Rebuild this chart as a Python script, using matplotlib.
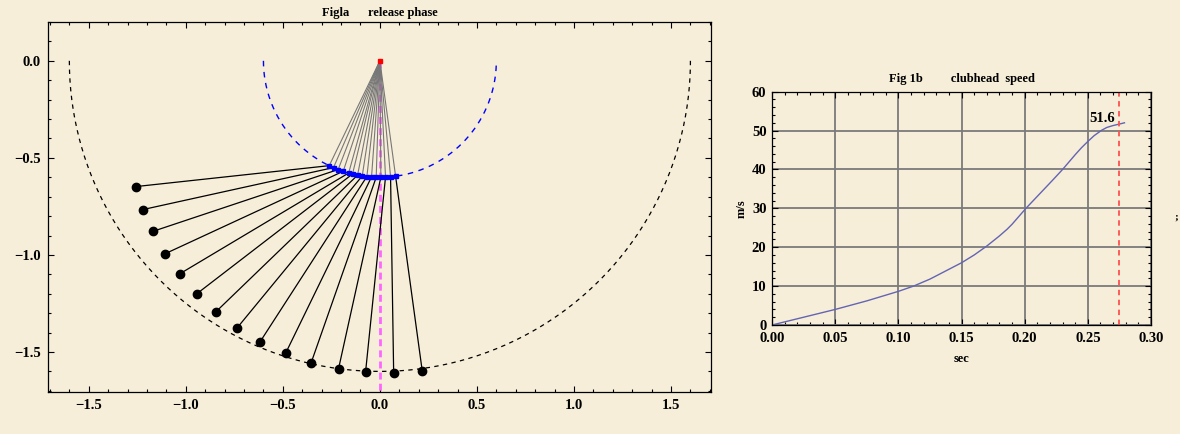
import numpy as np
import matplotlib
matplotlib.use("Agg")
from matplotlib import pyplot as plt
from matplotlib.ticker import MultipleLocator

# Fig 1a: hand positions (on arm circle) and clubhead positions
hand_x = [-0.261, -0.239, -0.215, -0.189, -0.161, -0.141, -0.115, -0.091,
          -0.067, -0.043, -0.019, 0.005, 0.029, 0.055, 0.081]
hand_y = [-0.540, -0.550, -0.560, -0.569, -0.578, -0.583, -0.589, -0.593,
          -0.596, -0.598, -0.600, -0.600, -0.599, -0.597, -0.595]
head_x = [-1.259, -1.220, -1.168, -1.105, -1.029, -0.942, -0.844, -0.735,
          -0.617, -0.486, -0.354, -0.213, -0.074, 0.071, 0.218]
head_y = [-0.648, -0.766, -0.878, -0.993, -1.096, -1.199, -1.292, -1.375,
          -1.447, -1.507, -1.555, -1.586, -1.605, -1.610, -1.596]
arm_r = 0.6
swing_r = 1.6

# Fig 1b: clubhead speed
t = [0.0, 0.025, 0.05, 0.075, 0.10, 0.112, 0.125, 0.15, 0.16, 0.17, 0.18,
     0.186, 0.19, 0.201, 0.208, 0.215, 0.222, 0.23, 0.24, 0.245, 0.25,
     0.255, 0.261, 0.265, 0.27, 0.274, 0.279]
v = [0.0, 2.0, 4.0, 6.2, 8.65, 10.0, 11.8, 16.0, 18.0, 20.3, 22.9,
     24.6, 25.9, 30.0, 32.4, 34.8, 37.2, 40.0, 43.8, 45.6, 47.2,
     48.7, 50.1, 50.8, 51.3, 51.6, 52.0]
t_release = 0.275
v_max = 51.6

bg = "#F6EED8"
plt.rcParams["font.family"] = ["Liberation Serif", "DejaVu Serif"]
plt.rcParams["font.weight"] = "bold"

fig = plt.figure(figsize=(11.8, 4.34), dpi=100, facecolor=bg)


def frame_ticks(ax):
    ax.tick_params(which="both", direction="in", top=True, right=True,
                   labelsize=10.5, width=0.8, colors="black")
    ax.tick_params(which="major", length=4.5)
    ax.tick_params(which="minor", length=2.5)
    for s in ax.spines.values():
        s.set_linewidth(0.9)
    for lab in ax.get_xticklabels() + ax.get_yticklabels():
        lab.set_fontweight("bold")


# ---- left panel
ax1 = fig.add_axes([48 / 1180, 1 - 392 / 434, 663 / 1180, 370 / 434])
ax1.set_facecolor(bg)
th = np.linspace(np.pi, 2 * np.pi, 300)
ax1.plot(swing_r * np.cos(th), swing_r * np.sin(th), color="black", lw=0.9,
         dashes=(3.5, 3.5))
ax1.plot(arm_r * np.cos(th), arm_r * np.sin(th), color="blue", lw=1.0,
         dashes=(4, 4))
ax1.plot([0, 0], [0, -1.75], color="#FF66FF", lw=2.0, dashes=(2.5, 1.5))
for hx, hy, cx, cy in zip(hand_x, hand_y, head_x, head_y):
    ax1.plot([0, hx], [0, hy], color="#777777", lw=0.8)
    ax1.plot([hx, cx], [hy, cy], color="black", lw=0.9)
ax1.plot(hand_x, hand_y, "s", color="blue", markersize=3.2, zorder=4)
ax1.plot(head_x, head_y, "o", color="black", markersize=6, zorder=4)
ax1.plot([0], [0], "s", color="red", markersize=2.5, zorder=5)
ax1.set_xlim(-1.71, 1.706)
ax1.set_ylim(-1.706, 0.2)
ax1.xaxis.set_minor_locator(MultipleLocator(0.1))
ax1.yaxis.set_minor_locator(MultipleLocator(0.1))
ax1.set_yticks([0.0, -0.5, -1.0, -1.5])
ax1.set_xticks([-1.5, -1.0, -0.5, 0.0, 0.5, 1.0, 1.5])
ax1.set_xticklabels(["\u22121.5", "\u22121.0", "\u22120.5", "0.0", "0.5", "1.0", "1.5"])
ax1.set_yticklabels(["0.0", "\u22120.5", "\u22121.0", "\u22121.5"])
frame_ticks(ax1)
ax1.tick_params(axis="x", pad=5)
ax1.tick_params(axis="y", pad=5)
ax1.set_title("Figla      release phase", fontsize=9, fontweight="bold", pad=4)

# ---- right panel
ax2 = fig.add_axes([772 / 1180, 1 - 325 / 434, 379 / 1180, 233.3 / 434])
ax2.set_facecolor(bg)
ax2.grid(True, color="#7A7A7A", lw=1.3)
ax2.set_axisbelow(True)
ax2.plot(t, v, color="#6464B4", lw=1.0)
ax2.axvline(t_release, color="#FF5050", lw=1.3, dashes=(3, 2.5))
ax2.text(0.261, 51.4, "%.1f" % v_max, ha="center", va="bottom", fontsize=10.5,
         fontweight="bold")
ax2.set_xlim(0, 0.30)
ax2.set_ylim(0, 60)
ax2.xaxis.set_major_locator(MultipleLocator(0.05))
ax2.xaxis.set_minor_locator(MultipleLocator(0.01))
ax2.yaxis.set_major_locator(MultipleLocator(10))
ax2.yaxis.set_minor_locator(MultipleLocator(2))
ax2.xaxis.set_major_formatter(plt.FormatStrFormatter("%.2f"))
frame_ticks(ax2)
ax2.tick_params(axis="x", which="major", pad=5)
ax2.tick_params(axis="y", which="major", pad=4)
ax2.set_title("Fig 1b         clubhead  speed", fontsize=9, fontweight="bold",
              pad=7)
ax2.set_xlabel("sec", fontsize=9, fontweight="bold", labelpad=6)
ax2.set_ylabel("m/s", fontsize=9, fontweight="bold", labelpad=3)

fig.text(1176 / 1180, 1 - 217 / 434, ";", fontsize=8, ha="center", va="center")

fig.savefig("out.png", dpi=100, facecolor=bg)
